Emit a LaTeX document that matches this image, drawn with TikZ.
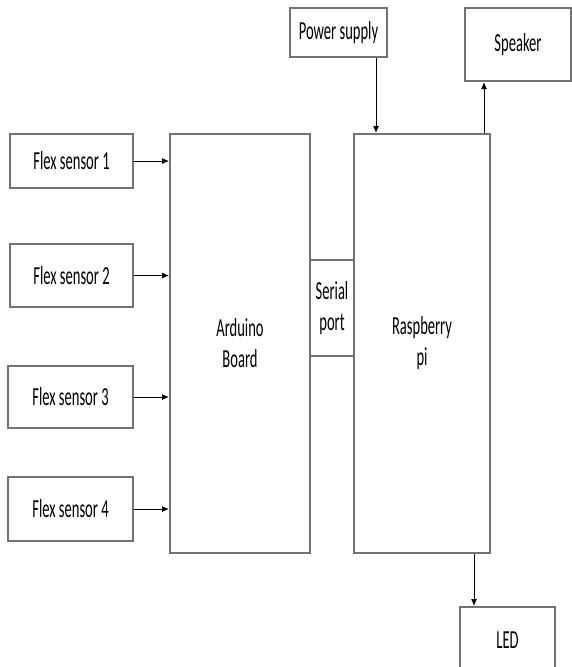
\documentclass[tikz,border=0pt]{standalone}
\usepackage{fontspec}
\setmainfont[FakeStretch=0.56]{Carlito}
\usetikzlibrary{arrows.meta}

\begin{document}
\begin{tikzpicture}[x=1pt, y=-1pt,
  blk/.style={draw=bxgray, line width=2pt, fill=white, align=center, inner sep=0pt,
    font=\fontsize{26}{31}\selectfont},
  arr/.style={-{Latex[length=7pt,width=6pt]}, line width=1pt, black}]
\definecolor{bxgray}{RGB}{115,115,115}
\useasboundingbox (0,0) rectangle (571,667);

% sensors on the left
\foreach \i/\xc/\yc/\w/\h in {1/71.5/161/123/54, 2/71.5/275.5/123/63, 3/70.5/397/125/62, 4/70.5/509/125/64}{
  \node[blk, minimum width=\w pt, minimum height=\h pt] (flex\i) at (\xc,\yc) {Flex sensor \i};
}

\node[blk, minimum width=140pt, minimum height=419pt] (ard) at (240,343.5) {Arduino\\Board};
\node[blk, minimum width=136pt, minimum height=419pt] (rpi) at (422,343.5) {Raspberry\\pi};
\node[blk, minimum width=44pt, minimum height=96pt] (ser) at (332,308) {Serial\\port};

\node[blk, minimum width=97pt, minimum height=49pt] (pwr) at (338.5,32.5) {Power supply};
\node[blk, minimum width=106pt, minimum height=73pt] (spk) at (518,44.5) {Speaker};
\node[blk, minimum width=95pt, minimum height=66pt] (led) at (507.5,640) {LED};

% connectors
\foreach \i in {1,...,4}{
  \draw[arr] (flex\i.east) -- (flex\i.east -| ard.west);
}
\draw[arr] ([xshift=-12pt]pwr.south east) -- ([xshift=-12pt]pwr.south east |- rpi.north);
\draw[arr] ([xshift=20pt]spk.south west |- rpi.north) -- ([xshift=20pt]spk.south west);
\draw[arr] ([xshift=15pt]led.north west |- rpi.south) -- ([xshift=15pt]led.north west);
\end{tikzpicture}
\end{document}
